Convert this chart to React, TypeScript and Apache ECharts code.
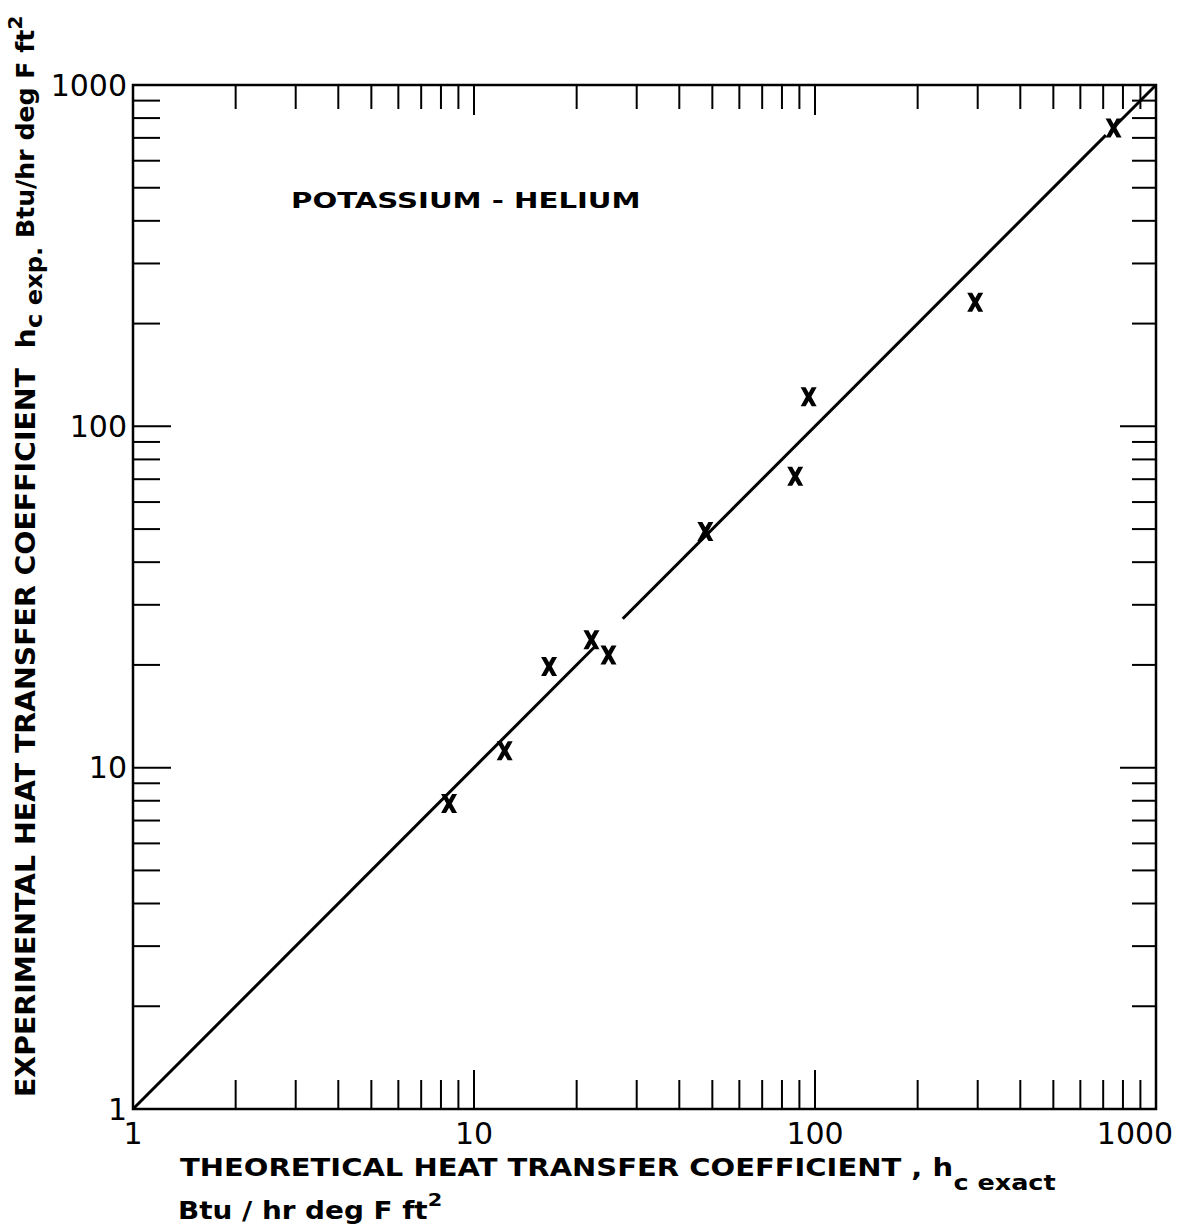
import React, { useEffect, useRef } from "react";
import * as echarts from "echarts";

// ---- data ----
const hcExact = [8.45, 12.3, 16.6, 22.1, 24.8, 47.7, 87.5, 95.8, 295, 751];
const hcExp = [7.85, 11.2, 19.8, 23.7, 21.4, 49.2, 71.4, 122, 231, 748];
// pieces of the 1:1 line (it is interrupted in the drawing)
const fitSegments = [
  [1, 22.6],
  [27.3, 713],
  [765, 1000],
];
const majorTickValues = [10, 100];
const minorTickValues = [
  2, 3, 4, 5, 6, 7, 8, 9,
  20, 30, 40, 50, 60, 70, 80, 90,
  200, 300, 400, 500, 600, 700, 800, 900,
];
const chartLabel = "POTASSIUM - HELIUM";
const xTitleMain = "THEORETICAL HEAT TRANSFER COEFFICIENT , h";
const xTitleSub = "c exact";
const xTitleUnits = "Btu / hr deg F ft";
const yTitleMain = "EXPERIMENTAL HEAT TRANSFER COEFFICIENT  h";
const yTitleSub = "c exp.";
const yTitleUnits = " Btu/hr deg F ft";
const unitsPower = "2";

const FONT = "'DejaVu Sans', 'Liberation Sans', sans-serif";

// bottom, top, left, right: [minor, major]
const tickLen = [
  [29, 39],
  [24, 30],
  [27, 38],
  [24, 36],
];

export default function App() {
  const ref = useRef<HTMLDivElement>(null);

  useEffect(() => {
    document.body.style.margin = "0";
    const chart = echarts.init(ref.current!, null, { renderer: "svg" });

    const tickData: number[][] = [];
    for (let side = 0; side < 4; side++) {
      minorTickValues.forEach((v) => tickData.push([v, v, side, 0]));
      majorTickValues.forEach((v) => tickData.push([v, v, side, 1]));
    }

    const lineSeries = fitSegments.map((seg) => ({
      type: "line",
      data: [
        [seg[0], seg[0]],
        [seg[1], seg[1]],
      ],
      showSymbol: false,
      symbol: "none",
      lineStyle: { color: "#000", width: 3 },
      silent: true,
      z: 2,
    }));

    const labelFormatter = (v: number) => {
      const r = Math.round(v);
      if (r === 1000) return "{last|1000}";
      return String(r);
    };

    const option: any = {
      animation: false,
      backgroundColor: "#fff",
      grid: {
        left: 133,
        right: 22,
        top: 85,
        bottom: 123,
        show: true,
        borderColor: "#000",
        borderWidth: 2.5,
        backgroundColor: "transparent",
      },
      xAxis: {
        type: "log",
        logBase: 10,
        min: 1,
        max: 1000,
        axisLine: { show: false },
        axisTick: { show: false },
        splitLine: { show: false },
        axisLabel: {
          color: "#000",
          fontFamily: FONT,
          fontSize: 30,
          margin: 9,
          formatter: labelFormatter,
          rich: {
            last: {
              color: "#000",
              fontFamily: FONT,
              fontSize: 30,
              padding: [0, 42, 0, 0],
            },
          },
        },
      },
      yAxis: {
        type: "log",
        logBase: 10,
        min: 1,
        max: 1000,
        axisLine: { show: false },
        axisTick: { show: false },
        splitLine: { show: false },
        axisLabel: {
          color: "#000",
          fontFamily: FONT,
          fontSize: 30,
          margin: 6,
          formatter: (v: number) => String(Math.round(v)),
        },
      },
      graphic: [
        {
          type: "text",
          x: 291,
          y: 201,
          scaleX: 1.39,
          style: {
            text: chartLabel,
            fontFamily: FONT,
            fontWeight: "bold",
            fontSize: 21,
            fill: "#000",
            align: "left",
            verticalAlign: "middle",
          },
        },
        {
          type: "text",
          x: 180,
          y: 1155,
          scaleX: 1.16,
          style: {
            text: `{m|${xTitleMain}}{s|${xTitleSub}}`,
            fill: "#000",
            align: "left",
            verticalAlign: "top",
            rich: {
              m: { fontFamily: FONT, fontWeight: "bold", fontSize: 25, lineHeight: 30, verticalAlign: "top", fill: "#000" },
              s: { fontFamily: FONT, fontWeight: "bold", fontSize: 22, lineHeight: 28, padding: [17, 0, 0, 0], verticalAlign: "top", fill: "#000" },
            },
          },
        },
        {
          type: "text",
          x: 178,
          y: 1191,
          scaleX: 1.16,
          style: {
            text: `{m|${xTitleUnits}}{p|${unitsPower}}`,
            fill: "#000",
            align: "left",
            verticalAlign: "top",
            rich: {
              m: { fontFamily: FONT, fontWeight: "bold", fontSize: 24, lineHeight: 30, padding: [8, 0, 0, 0], verticalAlign: "top", fill: "#000" },
              p: { fontFamily: FONT, fontWeight: "bold", fontSize: 18, lineHeight: 22, verticalAlign: "top", fill: "#000" },
            },
          },
        },
        {
          type: "text",
          x: 22,
          y: 1097,
          rotation: Math.PI / 2,
          scaleX: 1.05,
          style: {
            text: `{m|${yTitleMain}}{s|${yTitleSub}}{u|${yTitleUnits}}{p|${unitsPower}}`,
            fill: "#000",
            align: "left",
            verticalAlign: "middle",
            rich: {
              m: { fontFamily: FONT, fontWeight: "bold", fontSize: 27, lineHeight: 32, padding: [6, 0, 0, 0], verticalAlign: "top", fill: "#000" },
              s: { fontFamily: FONT, fontWeight: "bold", fontSize: 23, lineHeight: 28, padding: [17, 0, 0, 0], verticalAlign: "top", fill: "#000" },
              u: { fontFamily: FONT, fontWeight: "bold", fontSize: 24, lineHeight: 30, padding: [8, 0, 0, 0], verticalAlign: "top", fill: "#000" },
              p: { fontFamily: FONT, fontWeight: "bold", fontSize: 19, lineHeight: 22, verticalAlign: "top", fill: "#000" },
            },
          },
        },
      ],
      series: [
        {
          type: "custom",
          name: "ticks",
          coordinateSystem: "cartesian2d",
          dimensions: ["v", "v2", "side", "major"],
          encode: { x: 0, y: 1 },
          data: tickData,
          silent: true,
          clip: false,
          z: 3,
          renderItem: (params: any, api: any) => {
            const v = api.value(0);
            const side = api.value(2);
            const major = api.value(3);
            const cs = params.coordSys;
            const L = tickLen[side][major];
            let shape;
            if (side === 0) {
              const x = api.coord([v, 1])[0];
              const yb = cs.y + cs.height;
              shape = { x1: x, y1: yb, x2: x, y2: yb - L };
            } else if (side === 1) {
              const x = api.coord([v, 1])[0];
              shape = { x1: x, y1: cs.y, x2: x, y2: cs.y + L };
            } else if (side === 2) {
              const y = api.coord([1, v])[1];
              shape = { x1: cs.x, y1: y, x2: cs.x + L, y2: y };
            } else {
              const y = api.coord([1, v])[1];
              const xr = cs.x + cs.width;
              shape = { x1: xr, y1: y, x2: xr - L, y2: y };
            }
            return { type: "line", shape, style: { stroke: "#000", lineWidth: 2 } };
          },
        },
        ...lineSeries,
        {
          type: "scatter",
          name: "data",
          data: hcExact.map((x, i) => [x, hcExp[i]]),
          symbol:
            "path://M0,0 L3.1,0 L5,3.4 L6.9,0 L10,0 L6.7,6 L10,12 L6.9,12 L5,8.6 L3.1,12 L0,12 L3.3,6 Z",
          symbolSize: [16, 19],
          itemStyle: { color: "#000", opacity: 1 },
          z: 4,
        },
      ],
    };

    chart.setOption(option);
    return () => chart.dispose();
  }, []);

  return (
    <div
      ref={ref}
      style={{ position: "absolute", left: 0, top: 0, width: 1178, height: 1232, background: "#fff" }}
    />
  );
}
